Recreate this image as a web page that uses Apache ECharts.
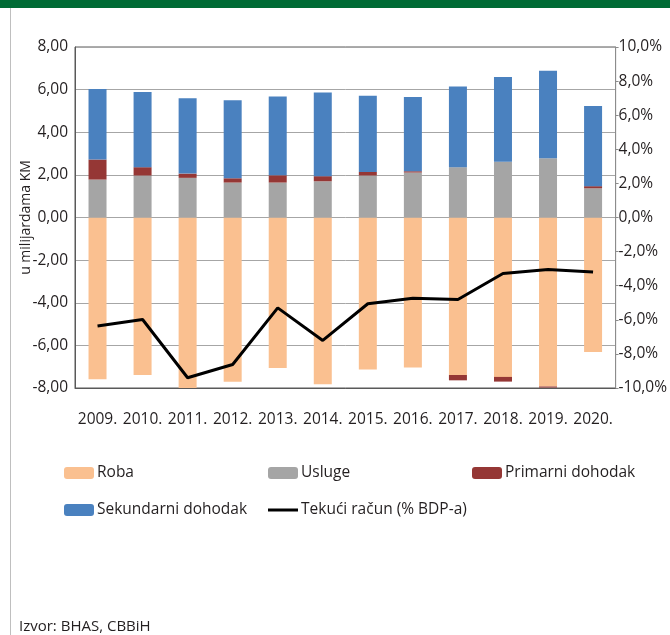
<!DOCTYPE html>
<html>
<head>
<meta charset="utf-8">
<script src="https://cdn.jsdelivr.net/npm/echarts@6/dist/echarts.min.js"></script>
<style>
  html, body { margin: 0; padding: 0; background: #fff; }
  #myChart { width: 670px; height: 635px; }
</style>
</head>
<body>
<div id="myChart"></div>
<script>
var years = ['2009.', '2010.', '2011.', '2012.', '2013.', '2014.', '2015.', '2016.', '2017.', '2018.', '2019.', '2020.']
var roba = [-7.59, -7.39, -8.06, -7.71, -7.06, -7.82, -7.13, -7.04, -7.39, -7.48, -7.93, -6.31]
var usluge = [1.78, 1.97, 1.86, 1.64, 1.64, 1.70, 1.97, 2.11, 2.36, 2.62, 2.78, 1.37]
var primarni = [0.94, 0.39, 0.20, 0.20, 0.34, 0.24, 0.17, 0.06, -0.25, -0.22, -0.05, 0.10]
var sekundarni = [3.31, 3.53, 3.53, 3.66, 3.70, 3.93, 3.57, 3.48, 3.79, 3.97, 4.11, 3.76]
var tekuci = [-6.37, -5.98, -9.40, -8.62, -5.30, -7.21, -5.06, -4.73, -4.81, -3.28, -3.05, -3.19]

var txt = '#231f20'
var font = 'Open Sans'
var fs = 15.5

const myChart = echarts.init(document.getElementById('myChart'))

function legendItem (name, left, top, extra) {
  return Object.assign({
    data: [name],
    left: left,
    top: top,
    itemWidth: 30,
    itemHeight: 12,
    itemGap: 0,
    padding: 0,
    selectedMode: false,
    textStyle: { color: txt, fontSize: fs, fontFamily: font, padding: [0, 0, 0, -2] }
  }, extra || {})
}

myChart.setOption({
  animation: false,
  grid: {
    left: 75,
    right: 47,
    top: 47,
    bottom: 247,
    show: true,
    borderColor: '#595959',
    borderWidth: 1
  },
  legend: [
    legendItem('Roba', 64, 465),
    legendItem('Usluge', 268, 465),
    legendItem('Primarni dohodak', 472, 465),
    legendItem('Sekundarni dohodak', 64, 502),
    legendItem({ name: 'Tekući račun (% BDP-a)', icon: 'rect' }, 268, 502, { itemHeight: 3 })
  ],
  graphic: [
    { type: 'rect', shape: { x: 0, y: 0, width: 670, height: 8 }, style: { fill: '#006b35' } },
    { type: 'rect', shape: { x: 10, y: 8, width: 1, height: 627 }, style: { fill: '#bfbfbf' } },
    {
      type: 'text',
      left: 19,
      top: 619,
      style: { text: 'Izvor: BHAS, CBBiH', fill: txt, font: '15px "Open Sans"' }
    }
  ],
  xAxis: {
    type: 'category',
    data: years,
    axisTick: { show: false },
    axisLine: { show: true, onZero: false, lineStyle: { color: '#595959' } },
    axisLabel: { color: txt, fontSize: fs, fontFamily: font, margin: 24, interval: 0 }
  },
  yAxis: [
    {
      type: 'value',
      min: -8,
      max: 8,
      interval: 2,
      name: 'u milijardama KM',
      nameLocation: 'middle',
      nameGap: 42,
      nameMoveOverlap: false,
      nameRotate: 90,
      nameTextStyle: { color: txt, fontSize: 14, fontFamily: font },
      axisLine: { show: true, lineStyle: { color: '#595959' } },
      axisTick: { show: false },
      splitLine: { show: true, lineStyle: { color: '#a6a6a6' } },
      axisLabel: {
        color: txt,
        fontSize: fs,
        fontFamily: font,
        margin: 7,
        formatter: function (v) { return v.toFixed(2).replace('.', ',') }
      }
    },
    {
      type: 'value',
      min: -10,
      max: 10,
      interval: 2,
      position: 'right',
      axisLine: { show: true, lineStyle: { color: '#8c8c8c' } },
      axisTick: { show: true, length: 3, lineStyle: { color: '#8c8c8c' } },
      splitLine: { show: false },
      axisLabel: {
        color: txt,
        fontSize: fs,
        fontFamily: font,
        margin: 3,
        formatter: function (v) { return v.toFixed(1).replace('.', ',') + '%' }
      }
    }
  ],
  series: [
    {
      name: 'Roba',
      type: 'bar',
      stack: 'bop',
      barWidth: 18,
      itemStyle: { color: '#fac090' },
      data: roba
    },
    {
      name: 'Usluge',
      type: 'bar',
      stack: 'bop',
      barWidth: 18,
      itemStyle: { color: '#a5a5a5' },
      data: usluge
    },
    {
      name: 'Primarni dohodak',
      type: 'bar',
      stack: 'bop',
      barWidth: 18,
      itemStyle: { color: '#953735' },
      data: primarni
    },
    {
      name: 'Sekundarni dohodak',
      type: 'bar',
      stack: 'bop',
      barWidth: 18,
      itemStyle: { color: '#4a81bf' },
      data: sekundarni
    },
    {
      name: 'Tekući račun (% BDP-a)',
      type: 'line',
      yAxisIndex: 1,
      symbol: 'none',
      itemStyle: { color: '#000' },
      lineStyle: { color: '#000', width: 3 },
      z: 5,
      data: tekuci
    }
  ]
})
</script>
</body>
</html>
